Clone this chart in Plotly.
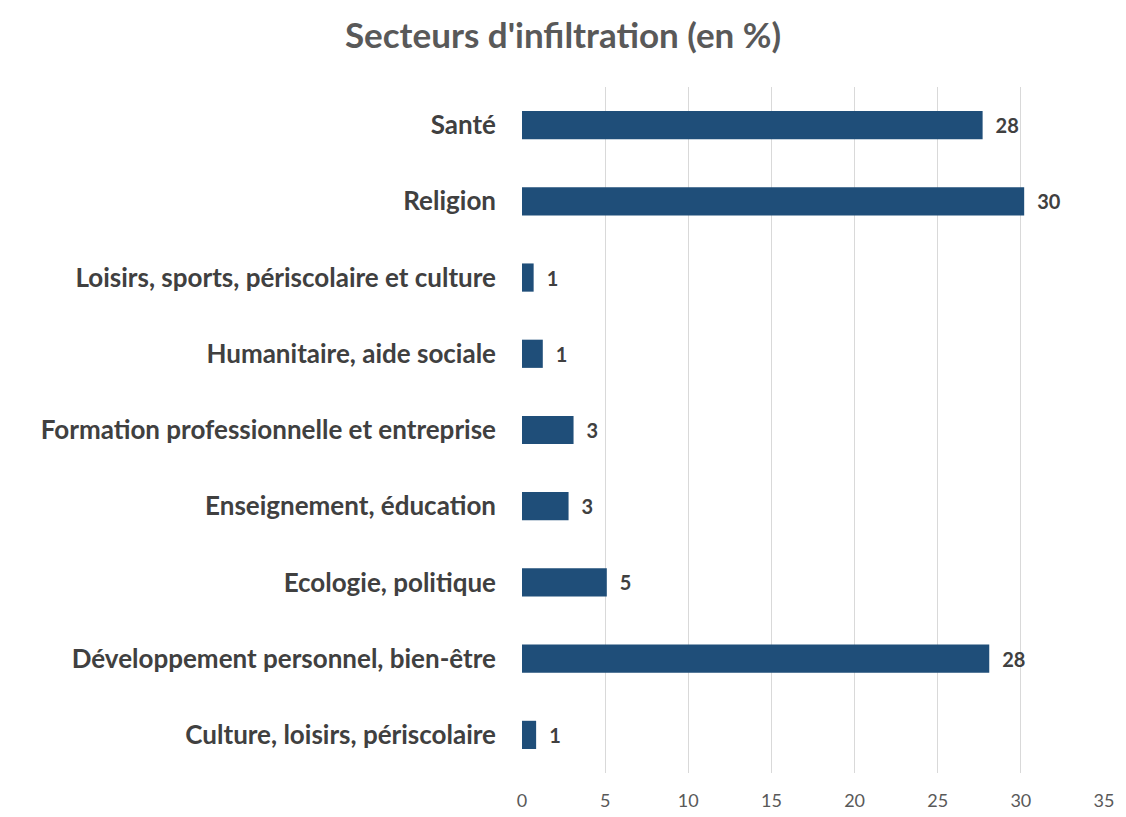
import plotly.graph_objects as go

categories = [
    "Santé",
    "Religion",
    "Loisirs, sports, périscolaire et culture",
    "Humanitaire, aide sociale",
    "Formation professionnelle et entreprise",
    "Enseignement, éducation",
    "Ecologie, politique",
    "Développement personnel, bien-être",
    "Culture, loisirs, périscolaire",
]
values = [27.7, 30.2, 0.7, 1.25, 3.1, 2.8, 5.1, 28.1, 0.85]
labels = ["28", "30", "1", "1", "3", "3", "5", "28", "1"]
x_ticks = [0, 5, 10, 15, 20, 25, 30, 35]

fig = go.Figure(go.Bar(
    x=values,
    y=categories,
    orientation="h",
    marker=dict(color="#1F4E79", line=dict(width=0)),
    width=0.37,
    text=["\u2002" + t for t in labels],
    textposition="outside",
    textfont=dict(family="Lato", size=20, color="#404040", weight="bold"),
    cliponaxis=False,
))

fig.update_layout(
    width=1110,
    height=805,
    paper_bgcolor="white",
    plot_bgcolor="white",
    margin=dict(l=514, r=14, t=79, b=40),
    title=dict(
        text="Secteurs d'infiltration (en %)",
        x=0.5,
        xanchor="center",
        y=1 - 28 / 805,
        yanchor="middle",
        font=dict(family="Lato", size=35, color="#595959", weight="bold"),
    ),
    showlegend=False,
)

fig.update_xaxes(
    range=[0, 35],
    tickvals=x_ticks,
    showgrid=True,
    gridcolor="#D9D9D9",
    gridwidth=1,
    zeroline=False,
    showline=False,
    ticks="",
    tickfont=dict(family="Lato", size=18, color="#595959"),
    ticklabelstandoff=15,
    automargin=False,
)

fig.update_yaxes(
    categoryorder="array",
    categoryarray=categories,
    autorange="reversed",
    showgrid=False,
    zeroline=False,
    showline=False,
    ticks="",
    tickfont=dict(family="Lato", size=26, color="#404040", weight="bold"),
    ticklabelstandoff=25,
    automargin=False,
)

fig.write_html("out.html")
